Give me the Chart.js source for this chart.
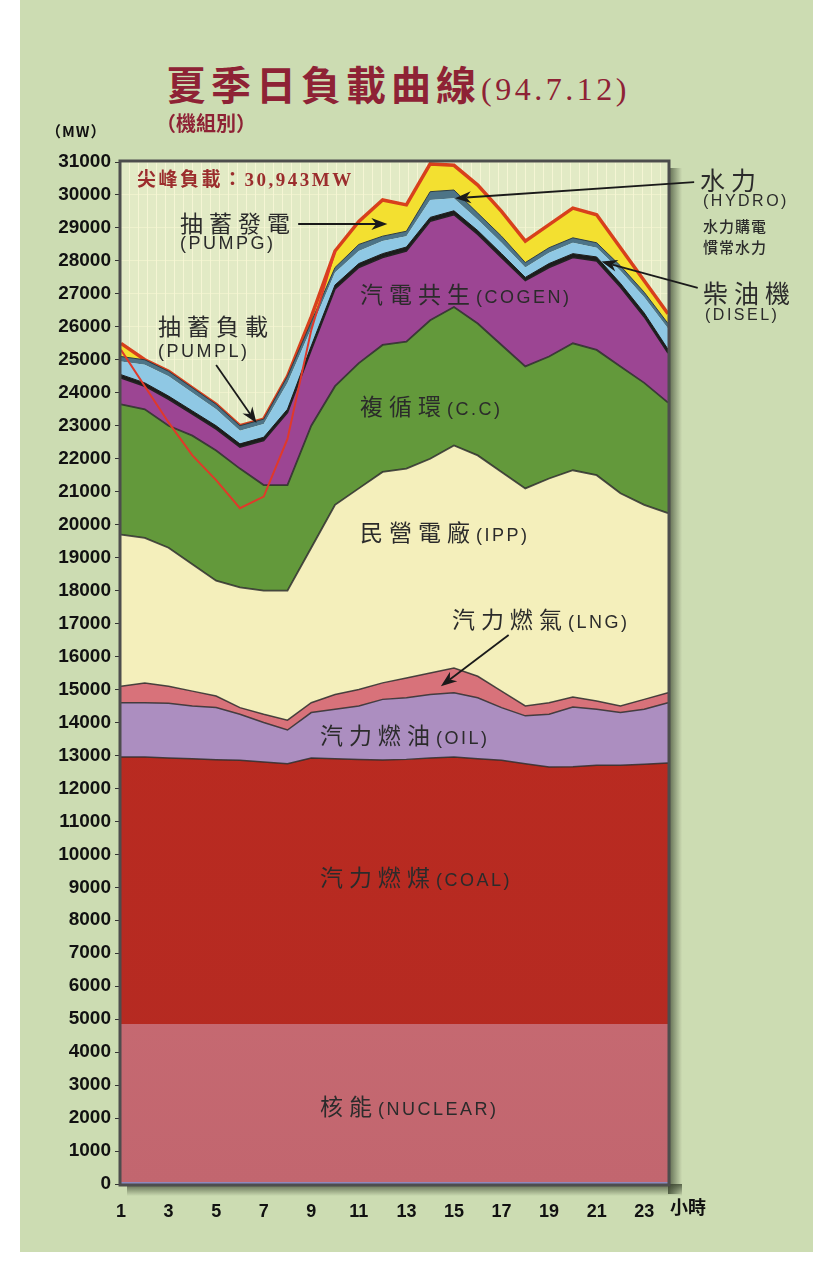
<!DOCTYPE html>
<html>
<head>
<meta charset="utf-8">
<script src="https://cdn.jsdelivr.net/npm/chart.js@4.4.0/dist/chart.umd.min.js"></script>
<style>
  body { margin: 0; background: #fff; width: 816px; height: 1263px; position: relative; overflow: hidden; }
  #panel { position: absolute; left: 20px; top: 0; width: 793px; height: 1252px; background: #ccdcb2; }
  #load { position: absolute; left: 20px; top: 130px; }
  .t { position: absolute; white-space: nowrap; color: #2b2b2b; font-family: "Noto Sans CJK TC", sans-serif; line-height: 30px; }
  .c { font-size: 23px; letter-spacing: 6px; }
  .l { font-family: "Liberation Sans", Arial, sans-serif; font-size: 18px; letter-spacing: 2.5px; }
  .title { position: absolute; left: 166px; top: 60px; color: #8e2235; font-family: "Noto Sans CJK TC", serif; font-weight: 700; font-size: 40px; letter-spacing: 5px; line-height: 46px; white-space: nowrap; }
  .title span { font-family: "Liberation Serif", serif; font-weight: 400; font-size: 32px; letter-spacing: 3.5px; }
  .sub { position: absolute; left: 156px; top: 111px; color: #8e2235; font-family: "Noto Sans CJK TC", serif; font-weight: 700; font-size: 20px; line-height: 24px; }
  .unit { position: absolute; left: 46px; top: 121px; color: #111; font-family: "Noto Sans CJK TC", sans-serif; font-weight: 700; font-size: 15px; letter-spacing: 1px; line-height: 20px; }
  .peak { position: absolute; left: 137px; top: 168px; color: #9b2d2d; font-family: "Liberation Serif", "Noto Sans CJK TC", serif; font-weight: 700; font-size: 19px; letter-spacing: 2.5px; line-height: 24px; white-space: nowrap; }
  .hr { position: absolute; left: 670px; top: 1194px; color: #111; font-family: "Noto Sans CJK TC", sans-serif; font-weight: 700; font-size: 18px; line-height: 24px; }
  .side { font-size: 15px; letter-spacing: 1px; font-weight: 500; }
</style>
</head>
<body>
<div id="panel"></div>
<canvas id="load" width="796" height="1110"></canvas>

<div class="title">夏季日負載曲線<span>(94.7.12)</span></div>
<div class="sub">（機組別）</div>
<div class="unit">（MW）</div>
<div class="peak">尖峰負載：30,943MW</div>
<div class="hr">小時</div>

<div class="t c" style="left:180px; top:207px;">抽蓄發電</div>
<div class="t l" style="left:180px; top:228px;">(PUMPG)</div>
<div class="t c" style="left:158px; top:310px;">抽蓄負載</div>
<div class="t l" style="left:158px; top:336px;">(PUMPL)</div>
<div class="t" style="left:360px; top:278px;"><span class="c">汽電共生</span><span class="l">(COGEN)</span></div>
<div class="t" style="left:360px; top:390px;"><span class="c">複循環</span><span class="l">(C.C)</span></div>
<div class="t" style="left:360px; top:516px;"><span class="c">民營電廠</span><span class="l">(IPP)</span></div>
<div class="t" style="left:452px; top:603px;"><span class="c">汽力燃氣</span><span class="l">(LNG)</span></div>
<div class="t" style="left:320px; top:719px;"><span class="c">汽力燃油</span><span class="l">(OIL)</span></div>
<div class="t" style="left:320px; top:861px;"><span class="c">汽力燃煤</span><span class="l">(COAL)</span></div>
<div class="t" style="left:320px; top:1090px;"><span class="c">核能</span><span class="l">(NUCLEAR)</span></div>

<div class="t c" style="left:700px; top:164px; font-size:25px;">水力</div>
<div class="t l" style="left:703px; top:186px; font-size:16px;">(HYDRO)</div>
<div class="t side" style="left:703px; top:211px;">水力購電</div>
<div class="t side" style="left:703px; top:232px;">慣常水力</div>
<div class="t c" style="left:703px; top:277px; font-size:25px;">柴油機</div>
<div class="t l" style="left:705px; top:300px; font-size:16px;">(DISEL)</div>

<script>
// hours of the day
let hours = ['1','2','3','4','5','6','7','8','9','10','11','12','13','14','15','16','17','18','19','20','21','22','23','24'];

// MW per unit type, bottom of the stack first
let nuclear  = [4850,4850,4850,4850,4850,4850,4850,4850,4850,4850,4850,4850,4850,4850,4850,4850,4850,4850,4850,4850,4850,4850,4850,4850];
let coal     = [8100,8100,8070,8050,8020,8000,7950,7900,8070,8050,8030,8010,8030,8070,8100,8050,8000,7900,7800,7810,7850,7850,7880,7920];
let oil      = [1650,1650,1660,1600,1580,1400,1200,1020,1380,1500,1620,1840,1870,1930,1950,1850,1600,1450,1600,1810,1700,1600,1670,1830];
let lng      = [500,600,520,450,350,200,250,300,300,450,500,500,600,650,750,650,500,300,350,300,250,200,300,300];
let ipp      = [4600,4400,4200,3850,3500,3650,3750,3930,4700,5750,6100,6400,6350,6500,6750,6700,6650,6600,6800,6880,6850,6450,5900,5450];
let cc       = [3950,3900,3700,3900,3950,3600,3200,3200,3700,3600,3800,3850,3850,4200,4200,4000,3850,3700,3700,3850,3800,3850,3700,3350];
let cogen    = [800,700,800,650,650,650,1350,2200,2300,2950,2900,2650,2750,3000,2800,2700,2650,2600,2700,2600,2700,2400,2000,1500];
let diesel   = [100,100,100,100,100,100,100,100,120,120,120,120,120,120,120,120,120,100,120,120,120,120,120,120];
let hydro    = [400,550,600,550,500,400,400,800,530,380,380,380,330,530,380,330,330,300,330,330,280,380,480,630];
let hydroBuy = [150,150,150,150,150,150,150,200,200,150,200,150,150,250,250,200,200,150,150,150,150,150,150,150];
let pumpGen  = [400,0,0,0,0,0,0,0,150,500,700,1100,800,843,750,850,750,650,700,900,850,550,350,300];

// load without pumping (red line), only while pumping
let pumpLoad = [25300,24200,23100,22100,21350,20500,20850,22600,25900,28300,null,null,null,null,null,null,null,null,null,null,null,null,null,null];

// y tick range
let yMax = 31000;
let yStep = 1000;

// arrow tail and tip, in hour / MW
let arrowSpots = [
    [8.45, 29120, 12.2, 29120],   // PUMPG
    [5.0, 24840, 6.7, 23080],     // PUMPL
    [25.1, 30390, 15.05, 29900],  // HYDRO
    [25.25, 27180, 21.2, 27980],  // DISEL
    [17.3, 16650, 14.45, 15100]   // LNG
];

const line = 'rgba(45,45,45,0.85)';

function grad(top, bottom) {
    return function(context) {
        const a = context.chart.chartArea;
        if (!a) return top;
        const g = context.chart.ctx.createLinearGradient(0, a.top, 0, a.bottom);
        g.addColorStop(0, top);
        g.addColorStop(1, bottom);
        return g;
    };
}

function layer(data, color, border, width, fill) {
    return {
        data: data,
        backgroundColor: color,
        borderColor: border,
        borderWidth: width,
        fill: fill,
        pointRadius: 0,
        tension: 0,
        stack: 'gen'
    };
}

function drawArrow(ctx, x1, y1, x2, y2) {
    const ang = Math.atan2(y2 - y1, x2 - x1);
    const L = 16, W = 6;
    const c = Math.cos(ang), s = Math.sin(ang);
    ctx.beginPath();
    ctx.moveTo(x1, y1);
    ctx.lineTo(x2 - L * 0.7 * c, y2 - L * 0.7 * s);
    ctx.stroke();
    ctx.beginPath();
    ctx.moveTo(x2, y2);
    ctx.lineTo(x2 - L * c + W * s, y2 - L * s - W * c);
    ctx.lineTo(x2 - L * 0.7 * c, y2 - L * 0.7 * s);
    ctx.lineTo(x2 - L * c - W * s, y2 - L * s + W * c);
    ctx.closePath();
    ctx.fill();
}

const frame = {
    id: 'frame',
    beforeDraw(chart) {
        const { ctx, chartArea: a } = chart;
        ctx.save();
        // drop shadow right and bottom
        let g = ctx.createLinearGradient(a.right, 0, a.right + 14, 0);
        g.addColorStop(0, 'rgba(50,60,40,0.75)');
        g.addColorStop(1, 'rgba(50,60,40,0)');
        ctx.fillStyle = g;
        ctx.fillRect(a.right, a.top + 6, 14, a.bottom - a.top + 4);
        g = ctx.createLinearGradient(0, a.bottom, 0, a.bottom + 12);
        g.addColorStop(0, 'rgba(50,60,40,0.75)');
        g.addColorStop(1, 'rgba(50,60,40,0)');
        ctx.fillStyle = g;
        ctx.fillRect(a.left + 6, a.bottom, a.right - a.left + 8, 12);
        // plot background with faint stripes
        ctx.fillStyle = '#e2eac5';
        ctx.fillRect(a.left, a.top, a.right - a.left, a.bottom - a.top);
        ctx.strokeStyle = 'rgba(250,248,215,0.8)';
        ctx.lineWidth = 1;
        for (let x = a.left + 8; x < a.right; x += 9) {
            ctx.beginPath();
            ctx.moveTo(x + 0.5, a.top);
            ctx.lineTo(x + 0.5, a.bottom);
            ctx.stroke();
        }
        ctx.restore();
    },
    afterDatasetsDraw(chart) {
        const { ctx, chartArea: a, scales } = chart;
        ctx.save();
        // bluish base line
        ctx.strokeStyle = '#8d89bd';
        ctx.lineWidth = 2;
        ctx.beginPath();
        ctx.moveTo(a.left, a.bottom - 1);
        ctx.lineTo(a.right, a.bottom - 1);
        ctx.stroke();
        ctx.strokeStyle = '#4d4d4d';
        ctx.lineWidth = 3;
        ctx.strokeRect(a.left - 1, a.top - 1, a.right - a.left + 2, a.bottom - a.top + 2);
        ctx.strokeStyle = '#1a1a1a';
        ctx.fillStyle = '#1a1a1a';
        ctx.lineWidth = 1.8;
        arrowSpots.forEach(s => {
            drawArrow(ctx,
                scales.x.getPixelForValue(s[0] - 1), scales.y.getPixelForValue(s[1]),
                scales.x.getPixelForValue(s[2] - 1), scales.y.getPixelForValue(s[3]));
        });
        ctx.restore();
    }
};

const load_Chart = document.querySelector('#load');

new Chart(load_Chart, {
    type: 'line',
    data: {
        labels: hours,
        datasets: [
            layer(nuclear, grad('#d6777b', '#c2666f'), 'rgba(0,0,0,0)', 0, 'origin'),
            layer(coal, grad('#bf2b1f', '#b42a22'), line, 1.5, '-1'),
            layer(oil, '#ac8ec0', line, 1.5, '-1'),
            layer(lng, '#d8727a', line, 1.5, '-1'),
            layer(ipp, '#f4efbb', line, 1.8, '-1'),
            layer(cc, '#63993b', line, 1.8, '-1'),
            layer(cogen, '#9c4593', '#222', 1.5, '-1'),
            layer(diesel, '#1c1c1c', '#1c1c1c', 1, '-1'),
            layer(hydro, '#8fc8e4', 'rgba(0,0,0,0)', 0, '-1'),
            layer(hydroBuy, '#4d7487', '#2e3d44', 1, '-1'),
            layer(pumpGen, '#f3e030', '#d8401c', 3.5, '-1'),
            {
                data: pumpLoad,
                borderColor: '#e0392a',
                borderWidth: 2,
                fill: false,
                pointRadius: 0,
                tension: 0,
                stack: 'load',
                order: -1
            }
        ]
    },
    options: {
        responsive: false,
        animation: false,
        layout: { padding: { left: 0, top: 32, right: 148, bottom: 16 } },
        plugins: {
            legend: { display: false },
            tooltip: { enabled: false }
        },
        scales: {
            x: {
                offset: false,
                grid: { display: false },
                border: { display: false },
                afterFit: s => { s.height = 40; },
                ticks: {
                    autoSkip: false,
                    maxRotation: 0,
                    padding: 9,
                    color: '#111',
                    font: { family: 'Liberation Sans', weight: 'bold', size: 18 },
                    callback: (v, i) => i % 2 === 0 ? hours[i] : ''
                }
            },
            y: {
                stacked: true,
                min: 0,
                max: yMax,
                border: { display: false },
                afterFit: s => { s.width = 101; },
                grid: {
                    color: 'rgba(248,246,210,0.6)',
                    tickColor: '#333',
                    tickLength: 6
                },
                ticks: {
                    stepSize: yStep,
                    padding: 4,
                    color: '#111',
                    font: { family: 'Liberation Sans', weight: 'bold', size: 19 },
                    callback: v => String(v)
                }
            }
        }
    },
    plugins: [frame]
});
</script>
</body>
</html>
